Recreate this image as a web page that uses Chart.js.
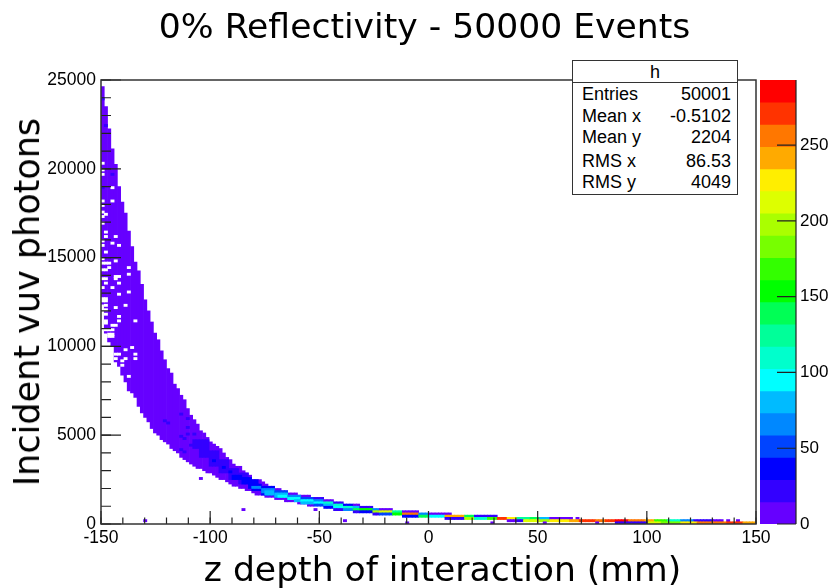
<!DOCTYPE html>
<html>
<head>
<meta charset="utf-8">
<title>0% Reflectivity - 50000 Events</title>
<script src="https://cdn.jsdelivr.net/npm/chart.js@4"></script>
<style>
  html, body { margin: 0; background: #fff; }
  #page { position: relative; width: 831px; height: 588px; overflow: hidden; }
  canvas { position: absolute; top: 0; }
  .title { position: absolute; font-family: "DejaVu Sans", sans-serif; color: #000; white-space: nowrap; }
  #main-title { left: 424.5px; top: 26px; font-size: 34.6px; transform: translate(-50%, -50%); }
  #x-title { left: 442.5px; top: 569px; font-size: 34.6px; transform: translate(-50%, -50%); }
  #y-title { left: 27px; top: 301.5px; font-size: 35px; transform: translate(-50%, -50%) rotate(-90deg); }
  #stats { position: absolute; left: 572px; top: 59.5px; width: 164px; height: 133px; background: #fff;
    border: 1px solid #333; font-family: "Liberation Sans", sans-serif; font-size: 18px; color: #000; }
  #stats .head { position: absolute; left: 0; right: 0; top: 0; height: 21.5px; border-bottom: 1px solid #333;
    text-align: center; line-height: 23px; }
  #stats .row { position: absolute; left: 9px; right: 6px; display: flex; justify-content: space-between; line-height: 20px; }
</style>
</head>
<body>
<div id="page">
  <canvas id="hist" width="831" height="588" style="left:0"></canvas>
  <canvas id="palette" width="71" height="588" style="left:760px"></canvas>
  <div class="title" id="main-title">0% Reflectivity - 50000 Events</div>
  <div class="title" id="x-title">z depth of interaction (mm)</div>
  <div class="title" id="y-title">Incident vuv photons</div>
  <div id="stats"><div class="head">h</div></div>
</div>
<script>
const xTicks = [-150, -100, -50, 0, 50, 100, 150];
const yTicks = [0, 5000, 10000, 15000, 20000, 25000];
const zTicks = [0, 50, 100, 150, 200, 250];

const statNames = ["Entries", "Mean x", "Mean y", "RMS x", "RMS y"];
const statValues = ["50001", "-0.5102", "2204", "86.53", "4049"];
const statRowTops = [23, 45, 66, 90, 111];

// one colour per contour, bottom to top of the palette
const paletteColors = [
  "#6600ff", "#3300ff", "#0000ff", "#0044ff", "#0088ff",
  "#00bbff", "#00ffff", "#00ffcc", "#00ff99", "#00ff55",
  "#00ff00", "#33ff00", "#77ff00", "#aaff00", "#ddff00",
  "#ffee00", "#ffaa00", "#ff7700", "#ff3300", "#ff0000",
];
const zMax = 293;

// top and bottom edge of the filled band for columns 0..64 (1.5 mm per column)
const bandTop = [
  24625, 23500, 22250, 21125, 20250, 19000, 18125, 17500, 16500, 15625,
  14750, 14250, 13500, 12625, 12000, 11375, 10750, 10375, 9750, 9250,
  8750, 8500, 7875, 7625, 7250, 7000, 6500, 6125, 5875, 5625,
  5250, 5125, 4875, 4625, 4500, 4375, 4250, 4000, 3750, 3625,
  3375, 3250, 3250, 3000, 2875, 2750, 2500, 2500, 2500, 2375,
  2250, 2125, 2125, 2000, 2000, 1875, 1875, 1750, 1750, 1750,
  1625, 1625, 1625, 1625, 1500,
];
const bandLow = [
  12375, 10750, 10250, 10000, 9125, 8875, 8375, 8000, 7500, 7375,
  7125, 6625, 6250, 6000, 5750, 5375, 5125, 5000, 4750, 4625,
  4500, 4250, 4125, 4000, 3750, 3625, 3500, 3375, 3250, 3125,
  3125, 3000, 2875, 2875, 2750, 2625, 2500, 2500, 2375, 2250,
  2125, 2125, 2000, 2000, 1875, 1875, 1750, 1625, 1625, 1625,
  1500, 1500, 1500, 1375, 1375, 1375, 1250, 1250, 1250, 1250,
  1125, 1125, 1125, 1000, 1000,
];
const bandCount = 8;

// [first column, last column, low, high, count]
const coreRuns = [
  [28, 29, 4250, 4750, 22], [30, 32, 3750, 4750, 22], [33, 35, 3250, 4125, 22],
  [36, 38, 2875, 3625, 22], [39, 41, 2500, 3125, 22], [42, 44, 2250, 2875, 22],
  [45, 47, 2000, 2500, 36], [40, 42, 2500, 2750, 36], [43, 45, 2250, 2625, 36],
  [46, 48, 1875, 2250, 36], [46, 48, 2000, 2125, 66], [49, 52, 1625, 2125, 36],
  [49, 52, 1750, 2000, 66], [50, 52, 1625, 1875, 80], [53, 56, 1500, 1875, 51],
  [53, 56, 1500, 1750, 80], [54, 56, 1500, 1625, 95], [57, 60, 1375, 1625, 66],
  [57, 60, 1375, 1500, 95], [59, 60, 1250, 1375, 80], [61, 64, 1375, 1500, 51],
  [61, 64, 1250, 1375, 95], [61, 64, 1125, 1250, 80],
];

const tailRuns = [
  [65, 67, 1375, 1500, 22], [65, 67, 1250, 1375, 66], [65, 67, 1125, 1250, 95], [65, 67, 1000, 1125, 51],
  [68, 70, 1250, 1375, 8], [68, 70, 1125, 1250, 110], [68, 70, 1000, 1125, 80], [68, 70, 875, 1000, 36],
  [71, 73, 1125, 1250, 22], [71, 73, 1000, 1125, 110], [71, 73, 875, 1000, 95], [71, 73, 750, 875, 22],
  [74, 76, 1000, 1125, 36], [74, 76, 875, 1000, 110], [74, 76, 750, 875, 66],
  [77, 78, 1000, 1125, 8], [77, 78, 875, 1000, 80], [77, 78, 750, 875, 139], [77, 78, 625, 750, 22],
  [79, 82, 875, 1000, 22], [79, 82, 750, 875, 154], [79, 82, 625, 750, 36],
  [83, 84, 750, 875, 66], [83, 84, 625, 750, 198], [83, 84, 500, 625, 22],
  [85, 88, 750, 875, 8], [85, 88, 625, 750, 212], [85, 88, 500, 625, 51],
  [89, 91, 625, 750, 124], [89, 91, 500, 625, 154],
  [92, 96, 625, 750, 8], [92, 96, 500, 625, 256], [92, 96, 375, 500, 36],
  [97, 99, 500, 625, 66], [97, 99, 375, 500, 139],
  [100, 106, 500, 625, 8], [100, 104, 375, 500, 95],
  [105, 110, 375, 500, 242], [105, 110, 250, 375, 22],
  [111, 113, 375, 500, 139], [111, 113, 250, 375, 198],
  [114, 117, 375, 500, 22], [114, 117, 250, 375, 110],
  [118, 120, 375, 500, 22], [118, 120, 250, 375, 168],
  [121, 123, 250, 375, 271],
  [124, 126, 250, 375, 227], [124, 126, 125, 250, 8],
  [127, 130, 250, 375, 124], [127, 128, 125, 250, 22], [129, 130, 125, 250, 212],
  [131, 133, 250, 375, 139], [131, 133, 125, 250, 212],
  [134, 136, 250, 375, 80], [134, 136, 125, 250, 198],
  [137, 142, 250, 375, 8], [137, 142, 125, 250, 227],
  [143, 143, 250, 375, 8], [145, 145, 250, 375, 8], [143, 145, 125, 250, 242],
  [146, 150, 125, 250, 271], [151, 153, 125, 250, 256], [154, 156, 125, 250, 271],
  [157, 160, 125, 250, 286], [161, 165, 125, 250, 256], [166, 168, 125, 250, 242],
  [169, 172, 125, 250, 168], [173, 176, 125, 250, 110], [177, 180, 125, 250, 66],
  [181, 186, 125, 250, 22], [187, 189, 125, 250, 8], [191, 191, 125, 250, 8], [194, 194, 125, 250, 8],
  [157, 166, 0, 125, 22], [167, 170, 0, 125, 212], [171, 176, 0, 125, 183],
  [177, 181, 0, 125, 227], [182, 190, 0, 125, 256], [191, 195, 0, 125, 271], [196, 199, 0, 125, 242],
];

// single bins: [column, bin low edge, count]
const flecks = [
  [0, 23875, 22], [1, 22375, 22], [3, 19625, 22], [0, 18875, 22], [24, 6125, 22], [26, 5875, 22],
  [19, 5750, 22], [20, 5625, 22], [24, 4875, 22], [25, 4750, 22], [26, 5375, 22], [26, 5000, 22],
  [28, 5000, 22], [27, 4375, 22], [25, 4000, 22], [24, 4125, 22], [34, 3500, 36], [37, 3125, 36],
  [39, 2875, 36],
];
const strays = [
  [30, 2500, 8], [43, 750, 8], [65, 750, 8], [74, 125, 8], [93, 0, 8],
  [13, 125, 8], [119, 0, 8], [135, 0, 8], [151, 0, 8],
];

// empty bins inside the band: [column, bin low edge]
const holes = [
  [0, 20250], [0, 19875], [0, 19625], [3, 18875], [0, 18125], [3, 18125], [0, 17875], [0, 17500],
  [1, 17375], [0, 17250], [0, 16875], [1, 16375], [4, 16125], [1, 16125], [0, 15875], [3, 15750],
  [5, 15625], [0, 15625], [1, 15250], [0, 14875], [4, 14750], [0, 14625], [1, 14625], [2, 14625],
  [2, 14375], [8, 14375], [0, 14250], [1, 14250], [8, 14000], [4, 13875], [5, 13875], [0, 13750],
  [1, 13750], [4, 13750], [1, 13500], [5, 13500], [3, 13250], [0, 13250], [8, 13000], [5, 12875],
  [0, 12625], [1, 12625], [0, 12500], [1, 12500], [7, 12250], [1, 12250], [4, 12125], [1, 12000],
  [1, 11750], [5, 11625], [5, 11375], [10, 11375], [1, 11375], [1, 11250], [3, 11125], [4, 11125],
  [1, 10875], [2, 10875], [3, 10875], [2, 10625], [3, 10625], [2, 10500], [3, 10500], [9, 9875],
  [7, 9750], [4, 9500], [5, 9500], [10, 9500], [10, 9250], [7, 9250], [4, 9250], [6, 9125],
  [6, 8875], [8, 8250],
];

const columnWidth = 1.5;
const binHeight = 125;

function colorFor(count) {
  const index = Math.floor(count / (zMax / paletteColors.length));
  return paletteColors[Math.min(index, paletteColors.length - 1)];
}

function cell(column, low, high, color) {
  return { x: -150 + (column + 0.5) * columnWidth, y: [low, high], color: color };
}

function buildCells() {
  const cells = [];
  bandTop.forEach((top, column) => {
    cells.push(cell(column, bandLow[column], top, colorFor(bandCount)));
  });
  coreRuns.concat(tailRuns).forEach(([first, last, low, high, count]) => {
    for (let column = first; column <= last; column++) {
      cells.push(cell(column, low, high, colorFor(count)));
    }
  });
  flecks.concat(strays).forEach(([column, low, count]) => {
    cells.push(cell(column, low, low + binHeight, colorFor(count)));
  });
  holes.forEach(([column, low]) => {
    cells.push(cell(column, low, low + binHeight, "#ffffff"));
  });
  return cells;
}

function plainTick(value) {
  return String(value);
}

// ROOT draws its tick marks inside the frame
function innerTicks(ctx, scale, values, length, horizontal) {
  const area = scale.chart.chartArea;
  ctx.beginPath();
  values.forEach((value) => {
    const p = scale.getPixelForValue(value);
    if (horizontal) {
      ctx.moveTo(p, area.bottom);
      ctx.lineTo(p, area.bottom - length);
    } else {
      ctx.moveTo(area.left, p);
      ctx.lineTo(area.left + length, p);
    }
  });
  ctx.stroke();
}

const histFrame = {
  id: "histFrame",
  afterDatasetsDraw(chart) {
    const { ctx, chartArea: area, scales } = chart;
    const xMinor = [];
    const yMinor = [];
    for (let v = -150; v <= 150; v += 10) xMinor.push(v);
    for (let v = 0; v <= 25000; v += 1000) yMinor.push(v);
    ctx.save();
    ctx.strokeStyle = "#222";
    ctx.lineWidth = 1.2;
    innerTicks(ctx, scales.x, xMinor, 6.5, true);
    innerTicks(ctx, scales.x, xTicks, 13, true);
    innerTicks(ctx, scales.y, yMinor, 10, false);
    innerTicks(ctx, scales.y, yTicks, 20, false);
    ctx.strokeStyle = "#333";
    ctx.lineWidth = 1.5;
    ctx.strokeRect(area.left, area.top, area.right - area.left, area.bottom - area.top);
    ctx.restore();
  },
};

const paletteFrame = {
  id: "paletteFrame",
  afterDatasetsDraw(chart) {
    const { ctx, chartArea: area, scales } = chart;
    ctx.save();
    ctx.strokeStyle = "#222";
    ctx.lineWidth = 1.2;
    ctx.beginPath();
    zTicks.forEach((value) => {
      const p = scales.y.getPixelForValue(value);
      ctx.moveTo(area.right, p);
      ctx.lineTo(area.right - 19, p);
    });
    ctx.moveTo(area.right, area.top);
    ctx.lineTo(area.right, area.bottom);
    ctx.stroke();
    ctx.restore();
  },
};

function renderHistogram() {
  const cells = buildCells();
  new Chart(document.getElementById("hist"), {
    type: "bar",
    data: {
      datasets: [
        {
          label: "h",
          data: cells,
          backgroundColor: cells.map((c) => c.color),
          borderWidth: 0,
          barPercentage: 1,
          categoryPercentage: 1,
          grouped: false,
        },
      ],
    },
    options: {
      responsive: false,
      animation: false,
      events: [],
      layout: { padding: { top: 80, right: 75 } },
      plugins: { legend: { display: false }, tooltip: { enabled: false } },
      scales: {
        x: {
          type: "linear",
          offset: false,
          min: -150,
          max: 150,
          afterBuildTicks: (scale) => { scale.ticks = xTicks.map((v) => ({ value: v })); },
          afterFit: (scale) => { scale.height = 64; },
          grid: { display: false, drawTicks: false },
          border: { display: false },
          ticks: {
            autoSkip: false,
            maxRotation: 0,
            padding: 4,
            color: "#000",
            callback: plainTick,
            font: { family: "Liberation Sans", size: 17.5 },
          },
        },
        y: {
          min: 0,
          max: 25000,
          afterBuildTicks: (scale) => { scale.ticks = yTicks.map((v) => ({ value: v })); },
          afterFit: (scale) => { scale.width = 101; },
          grid: { display: false, drawTicks: false },
          border: { display: false },
          ticks: {
            padding: 5,
            color: "#000",
            callback: plainTick,
            font: { family: "Liberation Sans", size: 17.5 },
          },
        },
      },
    },
    plugins: [histFrame],
  });
}

function renderPalette() {
  const step = zMax / paletteColors.length;
  new Chart(document.getElementById("palette"), {
    type: "bar",
    data: {
      labels: ["z"],
      datasets: [
        {
          data: paletteColors.map((c, i) => ({ x: "z", y: [i * step, (i + 1) * step] })),
          backgroundColor: paletteColors,
          borderWidth: 0,
          barPercentage: 1,
          categoryPercentage: 1,
          grouped: false,
        },
      ],
    },
    options: {
      responsive: false,
      animation: false,
      events: [],
      layout: { padding: { top: 80, bottom: 64 } },
      plugins: { legend: { display: false }, tooltip: { enabled: false } },
      scales: {
        x: { display: false },
        y: {
          position: "right",
          min: 0,
          max: zMax,
          afterBuildTicks: (scale) => { scale.ticks = zTicks.map((v) => ({ value: v })); },
          afterFit: (scale) => { scale.width = 35; },
          grid: { display: false, drawTicks: false },
          border: { display: false },
          ticks: {
            padding: 4,
            color: "#000",
            callback: plainTick,
            font: { family: "Liberation Sans", size: 17 },
          },
        },
      },
    },
    plugins: [paletteFrame],
  });
}

function renderStats() {
  const box = document.getElementById("stats");
  statNames.forEach((name, i) => {
    const row = document.createElement("div");
    row.className = "row";
    row.style.top = statRowTops[i] + "px";
    const label = document.createElement("span");
    label.textContent = name;
    const value = document.createElement("span");
    value.textContent = statValues[i];
    row.append(label, value);
    box.appendChild(row);
  });
}

renderHistogram();
renderPalette();
renderStats();
</script>
</body>
</html>
